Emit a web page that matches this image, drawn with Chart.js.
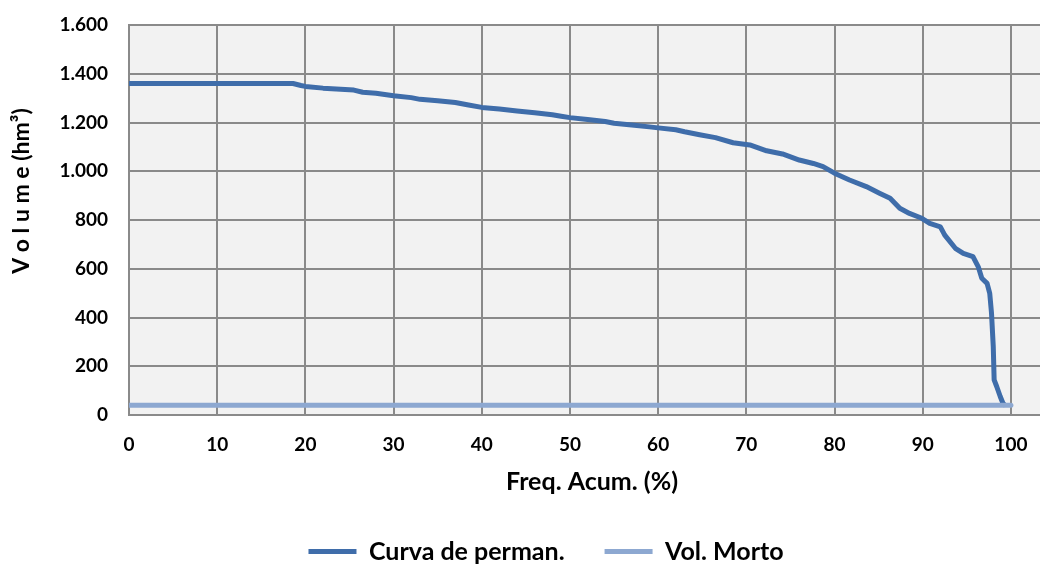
<!DOCTYPE html>
<html>
<head>
<meta charset="utf-8">
<script src="https://cdn.jsdelivr.net/npm/chart.js@4/dist/chart.umd.min.js"></script>
<style>
  html, body { margin: 0; padding: 0; background: #ffffff; }
  #wrap { width: 1040px; height: 564px; overflow: hidden; position: relative; }
  #c { display: block; }
</style>
</head>
<body>
<div id="wrap"><canvas id="c" width="1092" height="574"></canvas></div>
<script>
// Permanence curve of stored volume (hm³) vs. cumulative frequency (%)
const freqAcum = [0, 18.6, 19.5, 20, 22, 24, 25.5, 26.5, 28, 30, 32, 33, 35, 37, 38.5, 40,
  42, 44, 46, 48, 49, 50, 52, 54, 55, 57, 59, 60, 62, 63, 64.7, 66.5, 68.5, 70.4, 72.3,
  74.1, 76, 77.6, 78.7, 80, 81.7, 83.6, 85.1, 86.3, 87.4, 88.5, 89.9, 90.8, 92, 92.5,
  93.7, 94.6, 95.7, 96.3, 96.7, 97.3, 97.6, 97.8, 98.0, 98.1, 98.4, 98.8, 99.1, 99.4];
const volume = [1360, 1360, 1352, 1348, 1341, 1336, 1333, 1324, 1320, 1310, 1302, 1295,
  1289, 1282, 1272, 1262, 1255, 1247, 1240, 1232, 1226, 1220, 1212, 1204, 1197, 1190,
  1182, 1178, 1170, 1162, 1150, 1138, 1117, 1108, 1084, 1071, 1046, 1032, 1019, 992,
  964, 937, 910, 889, 848, 827, 807, 786, 772, 738, 684, 663, 650, 608, 561, 540, 499,
  418, 280, 144, 116, 75, 48, 38];

// Dead storage volume
const mortoFreq = [0, 100];
const mortoVolume = [40, 40];

const yTicks = [0, 200, 400, 600, 800, 1000, 1200, 1400, 1600];
const xTicks = [0, 10, 20, 30, 40, 50, 60, 70, 80, 90, 100];

const labelFont = 'Lato';
const gridColor = '#8a8a8a';

function fmtThousands(v) {
  return String(v).replace(/\B(?=(\d{3})+(?!\d))/g, '.');
}

const plotBackground = {
  id: 'plotBackground',
  beforeDraw(chart) {
    const { ctx, chartArea: a } = chart;
    ctx.save();
    ctx.fillStyle = '#f2f2f2';
    ctx.fillRect(a.left, a.top, a.right - a.left, a.bottom - a.top);
    ctx.restore();
  }
};

const yTitle = {
  id: 'yTitle',
  afterDraw(chart) {
    const ctx = chart.ctx;
    ctx.save();
    ctx.translate(22, 191);
    ctx.rotate(-Math.PI / 2);
    ctx.font = 'bold 23px ' + labelFont;
    ctx.fillStyle = '#000';
    ctx.textAlign = 'center';
    ctx.textBaseline = 'middle';
    ctx.fillText('V o l u m e (hm³)', 0, 0);
    ctx.restore();
  }
};

new Chart(document.getElementById('c'), {
  type: 'scatter',
  data: {
    datasets: [
      {
        label: 'Curva de perman.',
        data: freqAcum.map((f, i) => ({ x: f, y: volume[i] })),
        showLine: true,
        borderColor: '#3f6daa',
        backgroundColor: '#3f6daa',
        borderWidth: 5,
        pointRadius: 0,
        tension: 0,
        borderJoinStyle: 'round',
        order: 1
      },
      {
        label: 'Vol. Morto',
        data: mortoFreq.map((f, i) => ({ x: f, y: mortoVolume[i] })),
        showLine: true,
        borderColor: '#8da8d1',
        backgroundColor: '#8da8d1',
        borderWidth: 5,
        borderCapStyle: 'round',
        pointRadius: 0,
        order: 0
      }
    ]
  },
  options: {
    responsive: false,
    animation: false,
    layout: { padding: { top: 25, right: 37, left: 37, bottom: 0 } },
    plugins: {
      tooltip: { enabled: false },
      legend: {
        position: 'bottom',
        labels: {
          sort: (a, b) => a.datasetIndex - b.datasetIndex,
          usePointStyle: true,
          pointStyle: 'line',
          pointStyleWidth: 48,
          boxHeight: 5,
          padding: 40,
          color: '#000',
          font: { family: labelFont, size: 25, weight: 'bold' }
        }
      }
    },
    scales: {
      x: {
        type: 'linear',
        min: 0,
        max: 105,
        afterFit(scale) { scale.height = 84; },
        afterBuildTicks(scale) { scale.ticks = xTicks.map(v => ({ value: v })); },
        ticks: {
          includeBounds: false,
          padding: 18,
          color: '#000',
          font: { family: labelFont, size: 19, weight: 'bold' }
        },
        grid: { color: gridColor, lineWidth: 2, drawTicks: false },
        border: { color: gridColor, width: 2 },
        title: {
          display: true,
          text: 'Freq. Acum. (%)',
          color: '#000',
          padding: { top: 8, bottom: 2 },
          font: { family: labelFont, size: 25, weight: 'bold' }
        }
      },
      y: {
        min: 0,
        max: 1600,
        afterFit(scale) {
          scale.width = 92;
          scale.paddingTop = 0;
          scale.paddingBottom = 0;
        },
        afterBuildTicks(scale) { scale.ticks = yTicks.map(v => ({ value: v })); },
        ticks: {
          padding: 21,
          color: '#000',
          font: { family: labelFont, size: 19, weight: 'bold' },
          callback: v => fmtThousands(v)
        },
        grid: { color: gridColor, lineWidth: 2, drawTicks: false },
        border: { color: gridColor, width: 2 }
      }
    }
  },
  plugins: [plotBackground, yTitle]
});
</script>
</body>
</html>
